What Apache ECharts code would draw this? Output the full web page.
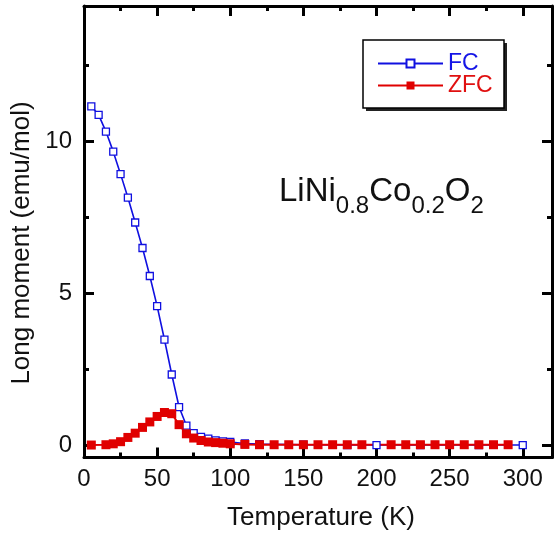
<!DOCTYPE html>
<html>
<head>
<meta charset="utf-8">
<script src="https://cdn.jsdelivr.net/npm/echarts@6/dist/echarts.min.js"></script>
<style>html,body{margin:0;padding:0;background:#fff;}#c{width:554px;height:538px;}</style>
</head>
<body>
<div id="c"></div>
<script>
// ---- data ----
var fcT = [5,10,15,20,25,30,35,40,45,50,55,60,65,70,75,80,85,90,95,100,110,120,150,180,200,230,270,300];
var fcM = [11.15,10.87,10.32,9.66,8.92,8.15,7.33,6.49,5.57,4.58,3.48,2.33,1.26,0.65,0.40,0.28,0.22,0.16,0.13,0.11,0.06,0.04,0.02,0.01,0.01,0.01,0.01,0.01];
var zfcT = [5,15,20,25,30,35,40,45,50,55,60,65,70,75,80,85,90,95,100,110,120,130,140,150,160,170,180,190,210,220,230,240,250,260,270,280,290];
var zfcM = [0.01,0.02,0.05,0.12,0.26,0.40,0.59,0.77,0.95,1.08,1.04,0.68,0.38,0.24,0.16,0.11,0.09,0.07,0.05,0.03,0.02,0.02,0.02,0.02,0.02,0.02,0.02,0.02,0.02,0.02,0.02,0.02,0.02,0.02,0.02,0.02,0.02];
var xMajor = [0,50,100,150,200,250,300];
var xMinor = [25,75,125,175,225,275];
var yMajor = [0,5,10];
var yMinor = [2.5,7.5,12.5];
var seriesNames = ['FC','ZFC'];
var xName = 'Temperature (K)';
var yName = 'Long moment (emu/mol)';

function pairs(a,b){var r=[];for(var i=0;i<a.length;i++){r.push([a[i],b[i]]);}return r;}

var FONT = 'Liberation Sans, Arial, sans-serif';
var lineStyleAxis = {color:'#000', width:3};

function xAx(pos, major, showLine, showLabel){
  return {
    type:'value', position:pos, min:0, max:320,
    axisLine:{show:showLine, onZero:false, lineStyle:lineStyleAxis},
    axisTick:{show:true, inside:true, length: major?10:5, customValues: major?xMajor:xMinor, lineStyle:{color:'#000', width:3}},
    axisLabel:{show:showLabel, customValues:xMajor, fontSize:24, color:'#111', fontFamily:FONT, margin:10},
    splitLine:{show:false}
  };
}
function yAx(pos, major, showLine, showLabel){
  return {
    type:'value', position:pos, min:-0.4, max:14.45,
    axisLine:{show:showLine, onZero:false, lineStyle:lineStyleAxis},
    axisTick:{show:true, inside:true, length: major?10:5, customValues: major?yMajor:yMinor, lineStyle:{color:'#000', width:3}},
    axisLabel:{show:showLabel, customValues:yMajor, fontSize:24, color:'#111', fontFamily:FONT, margin:12},
    splitLine:{show:false}
  };
}

var chart = echarts.init(document.getElementById('c'), null, {renderer:'canvas'});
chart.setOption({
  animation:false,
  backgroundColor:'#fff',
  grid:{left:84, right:2, top:6, bottom:80.5, containLabel:false},
  xAxis:[xAx('bottom',true,true,true), xAx('bottom',false,false,false), xAx('top',true,true,false), xAx('top',false,false,false)],
  yAxis:[yAx('left',true,true,true), yAx('left',false,false,false), yAx('right',true,true,false), yAx('right',false,false,false)],
  legend:{
    orient:'vertical', left:363, top:40, z:10,
    padding:[12,12,11,14],
    itemWidth:65, itemHeight:10, itemGap:-1,
    textStyle:{fontSize:23, fontFamily:FONT},
    data:[{name:seriesNames[0], textStyle:{color:'#1515e6'}},{name:seriesNames[1], textStyle:{color:'#e01010'}}]
  },
  graphic:[
    {type:'rect', z:5, shape:{x:366, y:43, width:141, height:68}, style:{fill:'#222'}},
    {type:'rect', z:6, shape:{x:363, y:40, width:141, height:68}, style:{fill:'#fff', stroke:'#000', lineWidth:1.5}},
    {type:'text', z:6, x:321, y:518, style:{text:xName, fontSize:26, fontFamily:FONT, fill:'#111', align:'center', verticalAlign:'middle'}},
    {type:'text', z:6, x:22, y:243, rotation:Math.PI/2, style:{text:yName, fontSize:26, fontFamily:FONT, fill:'#111', align:'center', verticalAlign:'middle'}},
    {type:'text', z:6, x:279, y:208,
     style:{
      text:'{n|LiNi}{s|0.8}{n|Co}{s|0.2}{n|O}{s|2}',
      verticalAlign:'bottom',
      rich:{
        n:{fontSize:33, fontFamily:FONT, fill:'#111', lineHeight:34, verticalAlign:'bottom'},
        s:{fontSize:24, fontFamily:FONT, fill:'#111', lineHeight:34, verticalAlign:'bottom', padding:[0,0,-10,0]}
      }
    }}
  ],
  series:[
    {name:seriesNames[0], type:'line', xAxisIndex:0, yAxisIndex:0, data:pairs(fcT,fcM),
     symbol:'rect', symbolSize:7, showAllSymbol:true,
     lineStyle:{color:'#1010e0', width:1.6},
     itemStyle:{color:'#fff', borderColor:'#1010e0', borderWidth:1.3}},
    {name:seriesNames[1], type:'line', xAxisIndex:0, yAxisIndex:0, data:pairs(zfcT,zfcM),
     symbol:'rect', symbolSize:9, showAllSymbol:true,
     lineStyle:{color:'#e00000', width:2},
     itemStyle:{color:'#e00000', borderColor:'#e00000', borderWidth:0}}
  ]
});
</script>
</body>
</html>
